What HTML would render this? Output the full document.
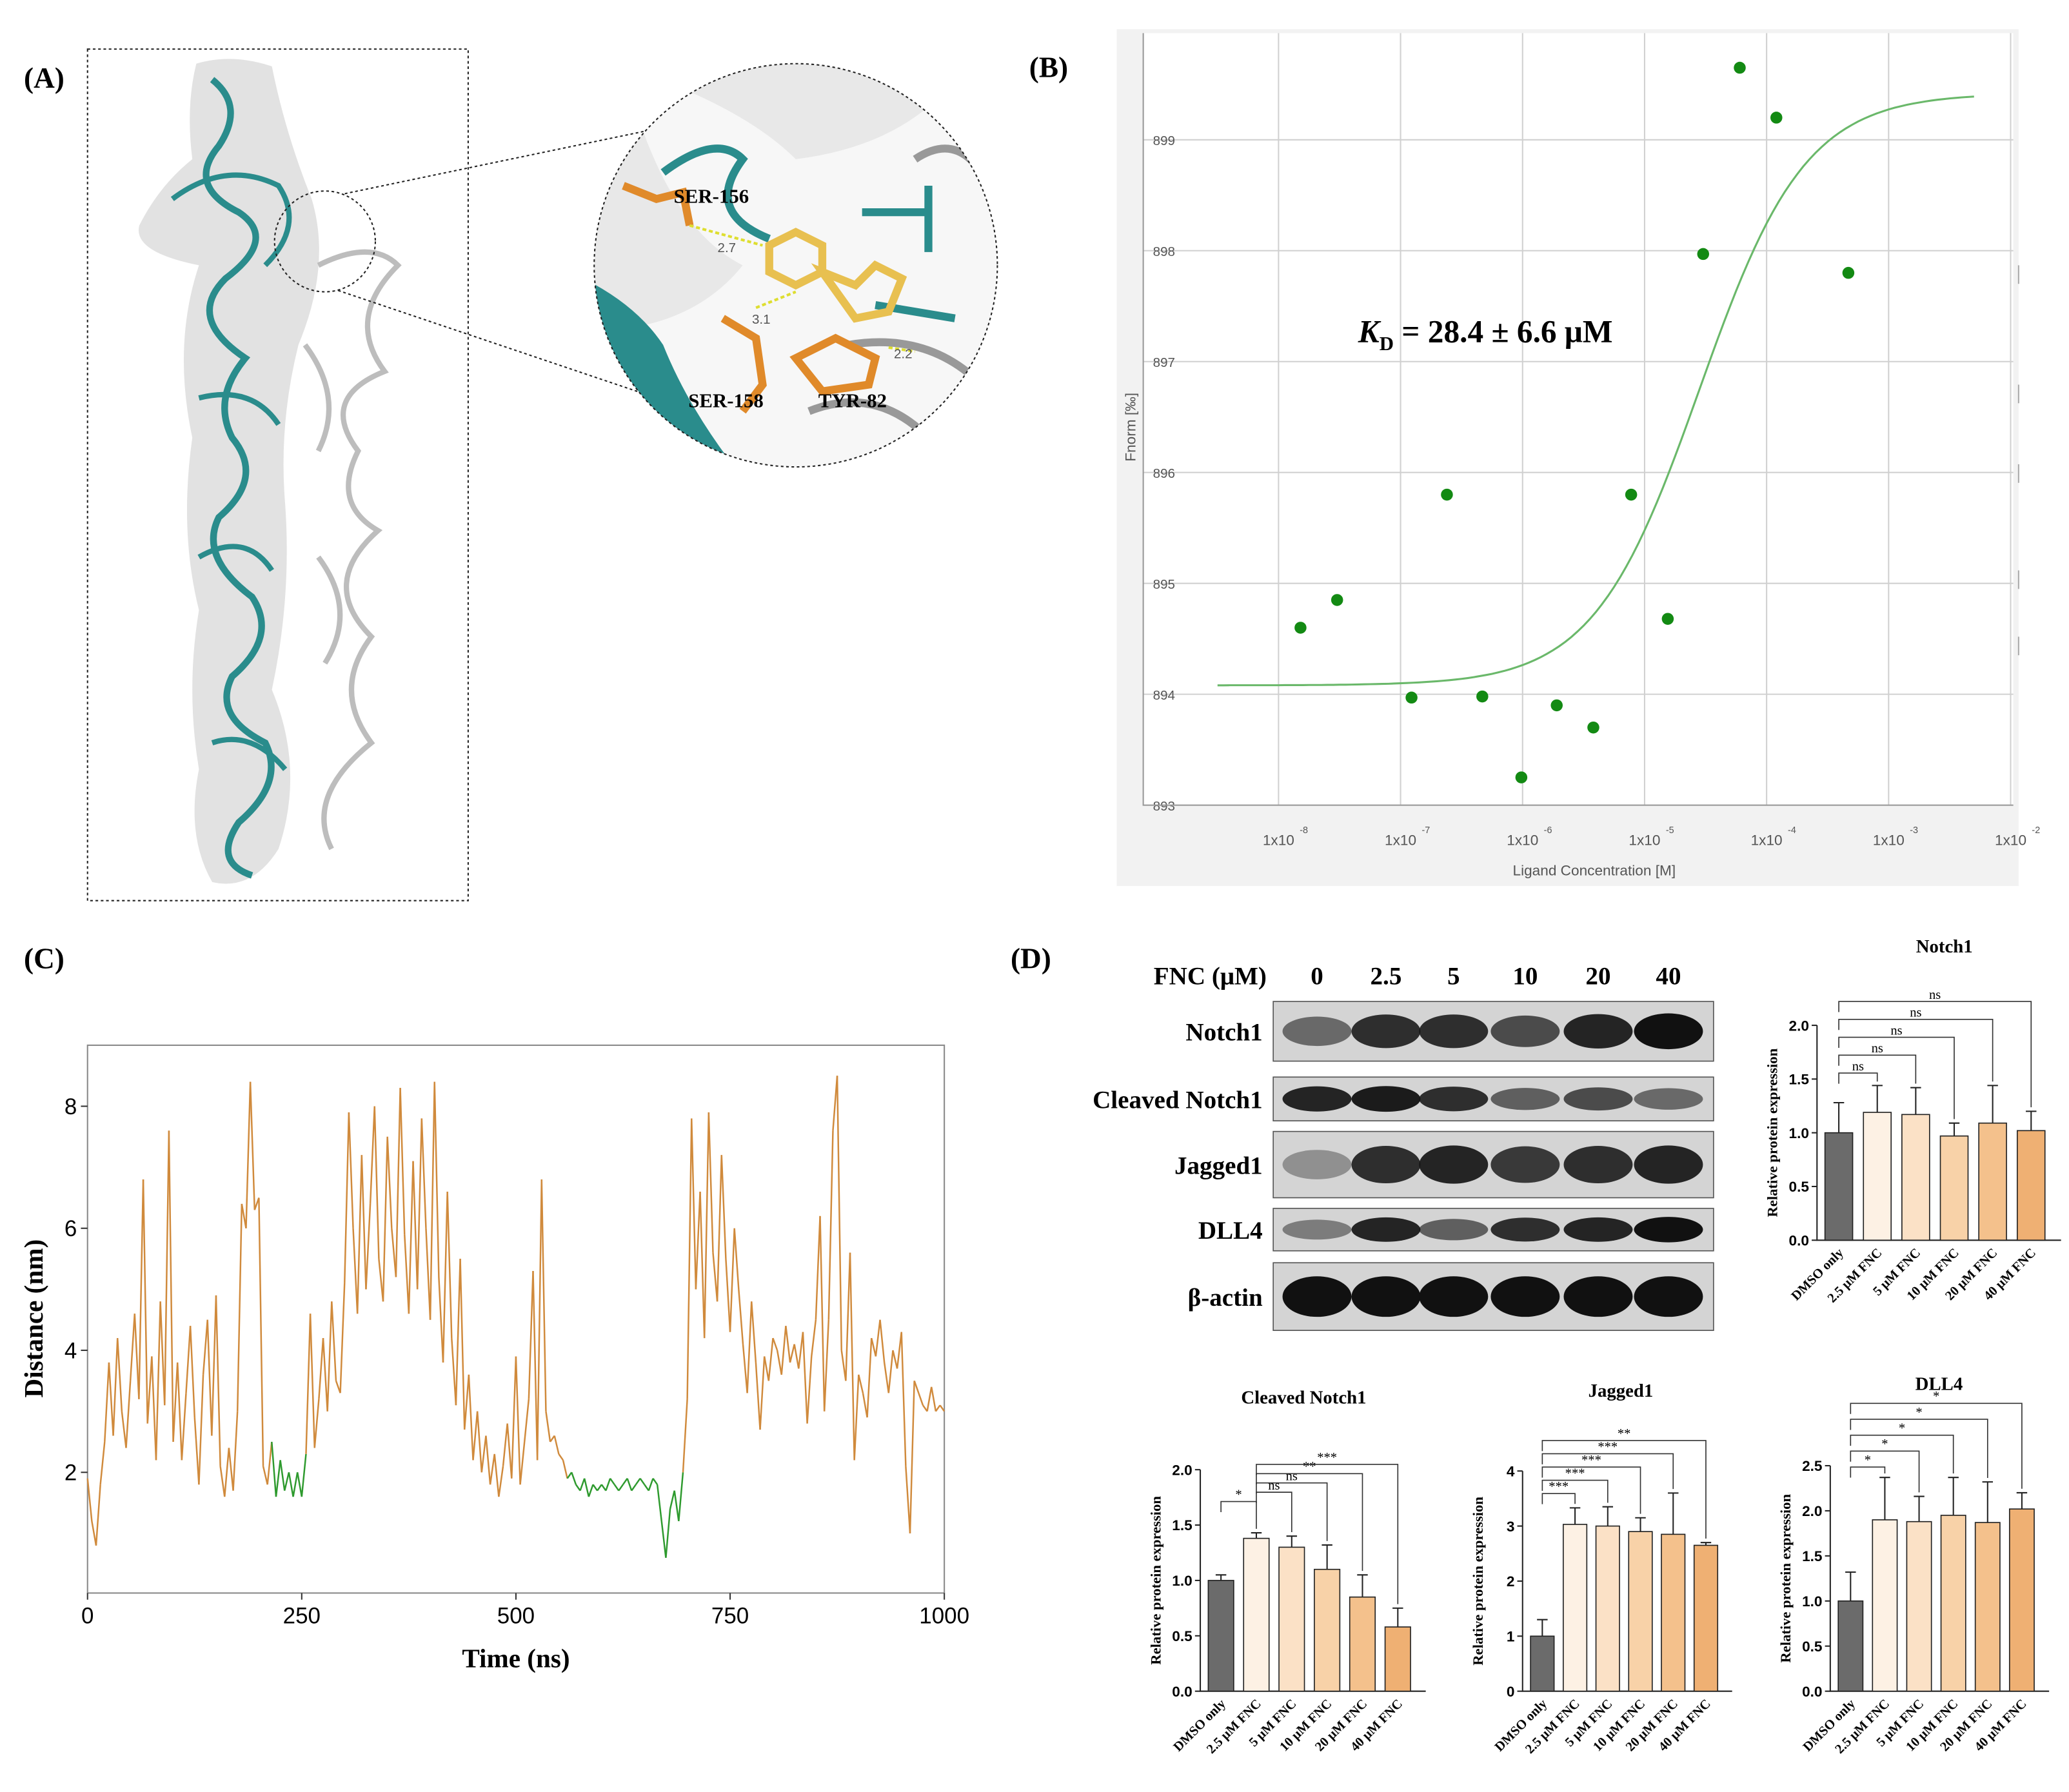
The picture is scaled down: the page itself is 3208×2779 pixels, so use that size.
<!DOCTYPE html>
<html><head><meta charset="utf-8"><style>
html,body{margin:0;padding:0;background:#fff}
svg{display:block}
text{font-family:"Liberation Serif",serif}
.sans{font-family:"Liberation Sans",sans-serif}
</style></head><body>
<svg id="fig" width="3208" height="2779" viewBox="0 0 1560 1351" preserveAspectRatio="none" xmlns="http://www.w3.org/2000/svg">
<defs>
<clipPath id="zc"><circle cx="600" cy="200" r="152"/></clipPath>
</defs>
<!-- Panel A -->
<g>
<text x="18" y="66" font-size="22" font-weight="bold">(A)</text>
<rect x="66" y="37" width="287" height="642" fill="none" stroke="#222" stroke-dasharray="2,2"/>
<path d="M148,48 Q175,40 205,50 Q215,100 235,150 Q250,200 225,260 Q210,320 215,380 Q220,450 205,520 Q230,580 210,640 Q190,672 160,665 Q140,630 150,580 Q140,520 150,460 Q135,400 145,330 Q130,260 150,200 Q100,190 105,170 Q120,140 145,120 Q140,80 148,48Z" fill="#e2e2e2"/>
<path d="M160,60 Q185,80 165,110 Q140,140 180,160 Q210,180 170,210 Q140,240 185,270 Q160,300 175,330 Q200,360 165,390 Q150,420 190,450 Q210,480 175,510 Q160,540 200,560 Q215,590 180,620 Q160,650 190,660" fill="none" stroke="#2a8c8c" stroke-width="5"/>
<path d="M130,150 Q170,120 210,140 Q230,170 200,200 M150,300 Q190,290 210,320 M150,420 Q185,400 205,430 M160,560 Q190,550 215,580" fill="none" stroke="#2a8c8c" stroke-width="4"/>
<path d="M240,200 Q280,180 300,200 Q260,240 290,280 Q240,300 270,340 Q250,380 285,400 Q240,440 280,480 Q250,520 280,560 Q230,600 250,640 M230,260 Q260,300 240,340 M240,420 Q270,460 245,500" fill="none" stroke="#bdbdbd" stroke-width="4"/>
<circle cx="245" cy="182" r="38" fill="none" stroke="#222" stroke-dasharray="2,2"/>
<line x1="260" y1="146" x2="505" y2="95" stroke="#222" stroke-dasharray="2,2"/>
<line x1="255" y1="219" x2="495" y2="300" stroke="#222" stroke-dasharray="2,2"/>
<g clip-path="url(#zc)">
<rect x="440" y="40" width="320" height="320" fill="#e8e8e8"/>
<path d="M470,50 Q560,80 600,120 Q680,110 720,60 L760,60 L760,360 L440,360 L440,250 Q520,250 560,200 Q500,170 470,50Z" fill="#f7f7f7"/>
<path d="M440,210 Q480,230 500,260 Q520,310 560,360 L440,360Z" fill="#2a8c8c"/>
<path d="M500,130 Q540,100 560,120 Q530,160 580,180" fill="none" stroke="#2a8c8c" stroke-width="6"/>
<path d="M690,120 Q720,100 740,130 M640,260 Q700,250 740,290 M610,310 Q660,290 700,330" fill="none" stroke="#999" stroke-width="6"/>
<path d="M650,160 L700,160 M700,140 L700,190 M660,230 L720,240" stroke="#2a8c8c" stroke-width="6"/>
<path d="M580,185 L600,175 L620,185 L620,205 L600,215 L580,205Z M620,205 L645,215 L660,200 L680,210 L670,235 L645,240Z" fill="none" stroke="#e8c050" stroke-width="6"/>
<path d="M470,140 L495,150 L515,145 L520,170 M545,240 L570,255 L575,290 L560,310 M600,270 L630,255 L660,270 L655,290 L620,295Z" fill="none" stroke="#e08a2a" stroke-width="6"/>
<path d="M520,170 L575,185 M570,232 L600,220 M670,262 L690,265" stroke="#dede30" stroke-width="2" stroke-dasharray="3,2"/>
</g>
<circle cx="600" cy="200" r="152" fill="none" stroke="#222" stroke-dasharray="2,2"/>
<text x="508" y="153" font-size="15" font-weight="bold">SER-156</text>
<text x="519" y="307" font-size="15" font-weight="bold">SER-158</text>
<text x="617" y="307" font-size="15" font-weight="bold">TYR-82</text>
<text x="541" y="190" font-size="10" fill="#555" class="sans">2.7</text>
<text x="567" y="244" font-size="10" fill="#555" class="sans">3.1</text>
<text x="674" y="270" font-size="10" fill="#555" class="sans">2.2</text>
</g>
<!-- Panel B -->
<g>
<text x="776" y="58" font-size="22" font-weight="bold">(B)</text>
<rect x="842" y="22" width="680" height="646" fill="#f2f2f2"/>
<rect x="862" y="25" width="656" height="582" fill="#fff"/>
<g id="gB"></g>
<text x="1024" y="258" font-size="24" font-weight="bold"><tspan font-style="italic">K</tspan><tspan font-size="15" dy="6">D</tspan><tspan dy="-6"> = 28.4 ± 6.6 μM</tspan></text>
<text x="1202" y="660" font-size="11" fill="#555" text-anchor="middle" class="sans">Ligand Concentration [M]</text>
<text transform="translate(856,322) rotate(-90)" font-size="11" fill="#555" text-anchor="middle" class="sans">Fnorm [‰]</text>
</g>
<!-- Panel C -->
<g>
<text x="18" y="730" font-size="22" font-weight="bold">(C)</text>
<g id="gC"></g>
<text x="389" y="1257" font-size="20" font-weight="bold" text-anchor="middle">Time (ns)</text>
<text transform="translate(32,994) rotate(-90)" font-size="20" font-weight="bold" text-anchor="middle">Distance (nm)</text>
</g>
<!-- Panel D -->
<g>
<text x="762" y="730" font-size="22" font-weight="bold">(D)</text>
<g id="gBlot"></g>
<g id="gBars"></g>
</g>
</svg>
<script>
const NS='http://www.w3.org/2000/svg';
function mk(parent,tag,attrs,txt){const e=document.createElementNS(NS,tag);for(const k in attrs)e.setAttribute(k,attrs[k]);if(txt!==undefined)e.textContent=txt;parent.appendChild(e);return e;}

/* ---------- Panel B data ---------- */
const mstLogConc=[-7.82,-7.52,-6.91,-6.62,-6.33,-6.01,-5.72,-5.42,-5.11,-4.81,-4.52,-4.22,-3.92,-3.33];
const mstFnorm=[894.6,894.85,893.97,895.8,893.98,893.25,893.9,893.7,895.8,894.68,897.97,899.65,899.2,897.8];
const mstXTicks=[-8,-7,-6,-5,-4,-3,-2];
const mstYTicks=[893,894,895,896,897,898,899];
const mstFit=[894.08,899.42,-4.55];
const bx=v=>964+(v+8)*92, by=v=>607-(v-893)*83.6;
const gB=document.getElementById('gB');
mstXTicks.forEach(t=>{
 const l=mk(gB,'line',{x1:bx(t),x2:bx(t),y1:25,y2:607,stroke:'#d0d0d0','stroke-width':1});
 
 
 const tx=mk(gB,'text',{x:bx(t),y:637,'font-size':11,fill:'#555','text-anchor':'middle',class:'sans'},'1x10');
 
 
 const ex=mk(gB,'text',{x:bx(t)+16,y:628,'font-size':7,fill:'#555',class:'sans'},String(t));
 
 
});
mstYTicks.forEach(t=>{
 const l=mk(gB,'line',{x1:862,x2:1518,y1:by(t),y2:by(t),stroke:'#d0d0d0','stroke-width':1});
 
 
 const tx=mk(gB,'text',{x:886,y:by(t)+4,'font-size':10,fill:'#555','text-anchor':'end',class:'sans'},String(t));
 
 
});
const axB=mk(gB,'path',{d:'M862,25V607H1518',fill:'none',stroke:'#999'});


let dfit='';
for(let x=-8.5;x<=-2.3;x+=0.05){const y=mstFit[0]+(mstFit[1]-mstFit[0])/(1+Math.pow(10,(mstFit[2]-x)*1.0));dfit+=(dfit?'L':'M')+bx(x).toFixed(1)+','+by(y).toFixed(1);}
const fit=mk(gB,'path',{d:dfit,fill:'none',stroke:'#6ab86a','stroke-width':1.5});


mstLogConc.forEach((c,i)=>{
 const p=mk(gB,'circle',{cx:bx(c),cy:by(mstFnorm[i]),r:4.5,fill:'#138a13'});
 
 
});
[200,290,350,430,480].forEach(y=>{const m=mk(gB,'line',{x1:1522,x2:1522,y1:y,y2:y+14,stroke:'#aaa'});});

/* ---------- Panel C data ---------- */
const timeStep=5;
const distance=[1.9,1.2,0.8,1.8,2.5,3.8,2.6,4.2,3.0,2.4,3.5,4.6,3.2,6.8,2.8,3.9,2.2,4.8,3.1,7.6,
2.5,3.8,2.2,3.3,4.4,2.9,1.8,3.6,4.5,2.6,4.9,2.1,1.6,2.4,1.7,3.0,6.4,6.0,8.4,6.3,
6.5,2.1,1.8,2.5,1.6,2.2,1.7,2.0,1.6,2.0,1.6,2.3,4.6,2.4,3.2,4.2,3.0,4.8,3.5,3.3,
5.1,7.9,6.0,4.6,7.2,5.0,6.4,8.0,5.5,4.8,7.5,6.0,5.2,8.3,5.9,4.6,7.1,5.0,7.8,6.0,
4.5,8.4,5.2,3.8,6.6,4.2,3.1,5.5,2.7,3.6,2.2,3.0,2.0,2.6,1.8,2.3,1.6,2.1,2.8,1.9,
3.9,1.8,2.5,3.2,5.3,2.2,6.8,3.0,2.5,2.6,2.3,2.2,1.9,2.0,1.8,1.7,1.9,1.6,1.8,1.7,
1.8,1.7,1.9,1.8,1.7,1.8,1.9,1.7,1.8,1.9,1.8,1.7,1.9,1.8,1.2,0.6,1.4,1.7,1.2,2.0,
3.2,7.8,5.0,6.6,4.2,7.9,5.6,4.8,7.2,5.5,4.3,6.0,5.0,4.1,3.3,4.8,3.8,2.7,3.9,3.5,
4.2,4.0,3.6,4.4,3.8,4.1,3.7,4.3,2.8,3.9,4.5,6.2,3.0,4.5,7.6,8.5,4.0,3.5,5.6,2.2,
3.6,3.3,2.9,4.2,3.9,4.5,3.8,3.3,4.0,3.7,4.3,2.1,1.0,3.5,3.3,3.1,3.0,3.4,3.0,3.1,3.0];
const greenRanges=[[215,255],[560,695]];
const cXTicks=[0,250,500,750,1000];
const cYTicks=[2,4,6,8];
const cx=t=>66+t*0.646, cy=v=>1202-v*46;
const gC=document.getElementById('gC');
const fr=mk(gC,'rect',{x:66,y:788,width:646,height:413,fill:'none',stroke:'#888'});


cXTicks.forEach(t=>{
 const l=mk(gC,'line',{x1:cx(t),x2:cx(t),y1:1201,y2:1206,stroke:'#333'});
 
 
 const tx=mk(gC,'text',{x:cx(t),y:1224,'font-size':17,'text-anchor':'middle',class:'sans'},String(t));
 
 
});
cYTicks.forEach(t=>{
 const l=mk(gC,'line',{x1:61,x2:66,y1:cy(t),y2:cy(t),stroke:'#333'});
 
 
 const tx=mk(gC,'text',{x:58,y:cy(t)+6,'font-size':17,'text-anchor':'end',class:'sans'},String(t));
 
 
});
const isGreen=t=>greenRanges.some(r=>t>=r[0]&&t<=r[1]);
for(let i=1;i<distance.length;i++){
 const t0=(i-1)*timeStep,t1=i*timeStep;
 const seg=mk(gC,'line',{x1:cx(t0),y1:cy(distance[i-1]),x2:cx(t1),y2:cy(distance[i]),stroke:(isGreen(t0)&&isGreen(t1))?'#2e9a2e':'#d08a3c','stroke-width':1.2});
 
 
}

/* ---------- Panel D blot ---------- */
const lanes=['0','2.5','5','10','20','40'];
const laneX=[993,1045,1096,1150,1205,1258];
const blotRows=['Notch1','Cleaved Notch1','Jagged1','DLL4','β-actin'];
const blotY=[[755,800],[812,845],[853,903],[911,943],[952,1003]];
const bandIntensity=[[0.55,0.85,0.85,0.7,0.9,1.0],[0.9,0.95,0.85,0.6,0.7,0.55],[0.35,0.85,0.9,0.8,0.85,0.9],[0.45,0.9,0.6,0.85,0.9,1.0],[1,1,1,1,1,1]];
const gBl=document.getElementById('gBlot');
const fh=mk(gBl,'text',{x:955,y:742,'font-size':19,'font-weight':'bold','text-anchor':'end'},'FNC (μM)');


lanes.forEach((l,i)=>{const t=mk(gBl,'text',{x:laneX[i],y:742,'font-size':19,'font-weight':'bold','text-anchor':'middle'},l);});
blotRows.forEach((r,j)=>{
 const [y0,y1]=blotY[j];
 const bg=mk(gBl,'rect',{x:960,y:y0,width:332,height:y1-y0,fill:'#d4d4d4',stroke:'#555','stroke-width':0.8});
 
 
 const lb=mk(gBl,'text',{x:952,y:(y0+y1)/2+7,'font-size':19,'font-weight':'bold','text-anchor':'end'},r);
 
 
 laneX.forEach((x,i)=>{
  const v=bandIntensity[j][i];
  const b=mk(gBl,'ellipse',{cx:x,cy:(y0+y1)/2,rx:26,ry:(y1-y0)*0.18+v*(y1-y0)*0.12,fill:'#111','fill-opacity':v});
  
  
 });
});

/* ---------- Panel D bar charts ---------- */
const barCats=['DMSO only','2.5 μM FNC','5 μM FNC','10 μM FNC','20 μM FNC','40 μM FNC'];
const barColors=['#6b6b6b','#fdf1e4','#fbe1c6','#f8d2a8','#f4c18c','#efb073'];
const notch1Vals=[1.0,1.19,1.17,0.97,1.09,1.02];
const notch1Err=[0.28,0.25,0.25,0.12,0.35,0.18];
const cleavedVals=[1.0,1.38,1.3,1.1,0.85,0.58];
const cleavedErr=[0.05,0.05,0.1,0.22,0.2,0.17];
const jaggedVals=[1.0,3.03,3.0,2.9,2.85,2.65];
const jaggedErr=[0.3,0.3,0.35,0.25,0.75,0.05];
const dll4Vals=[1.0,1.9,1.88,1.95,1.87,2.02];
const dll4Err=[0.32,0.47,0.28,0.42,0.45,0.18];
const notch1Ticks=[0,0.5,1.0,1.5,2.0];
const cleavedTicks=[0,0.5,1.0,1.5,2.0];
const jaggedTicks=[0,1,2,3,4];
const dll4Ticks=[0,0.5,1.0,1.5,2.0,2.5];
const notch1Sig=['ns','ns','ns','ns','ns'];
const cleavedSig=['*','ns','ns','**','***'];
const jaggedSig=['***','***','***','***','**'];
const dll4Sig=['*','*','*','*','*'];
const charts=[
 {name:'notch1',title:'Notch1',vals:notch1Vals,err:notch1Err,ticks:notch1Ticks,sig:notch1Sig,x0:1370,w:184,y0:935,ymax:2.0,ytop:773,brTop:755,brStep:13.5,ref:0,tx:1466,ty:718},
 {name:'cleaved-notch1',title:'Cleaved Notch1',vals:cleavedVals,err:cleavedErr,ticks:cleavedTicks,sig:cleavedSig,x0:905,w:170,y0:1275,ymax:2.0,ytop:1108,brTop:1104,brStep:-7,ref:-1,tx:983,ty:1058},
 {name:'jagged1',title:'Jagged1',vals:jaggedVals,err:jaggedErr,ticks:jaggedTicks,sig:jaggedSig,x0:1148,w:158,y0:1275,ymax:4,ytop:1109,brTop:1086,brStep:-10,ref:0,tx:1222,ty:1053},
 {name:'dll4',title:'DLL4',vals:dll4Vals,err:dll4Err,ticks:dll4Ticks,sig:dll4Sig,x0:1380,w:165,y0:1275,ymax:2.5,ytop:1105,brTop:1058,brStep:-12,ref:0,tx:1462,ty:1048}
];
const gBars=document.getElementById('gBars');
charts.forEach(c=>{
 const g=mk(gBars,'g',{});
 
 
 const sy=v=>c.y0-(v/c.ymax)*(c.y0-c.ytop);
 const step=(c.w-10)/6, bw=step*0.72;
 const bxc=i=>c.x0+6+step*i+bw/2;
 const tt=mk(g,'text',{x:c.tx,y:c.ty,'font-size':14,'font-weight':'bold','text-anchor':'middle'},c.title);
 
 
 const ax=mk(g,'path',{d:`M${c.x0},${c.ytop}V${c.y0}H${c.x0+c.w}`,fill:'none',stroke:'#222','stroke-width':1});
 
 
 c.ticks.forEach(t=>{
  const l=mk(g,'line',{x1:c.x0-4,x2:c.x0,y1:sy(t),y2:sy(t),stroke:'#222'});
  
  
  const tx=mk(g,'text',{x:c.x0-6,y:sy(t)+4,'font-size':11,'font-weight':'bold','text-anchor':'end',class:'sans'},Number.isInteger(t)&&c.ymax===4?String(t):t.toFixed(1));
  
  
 });
 const yt=mk(g,'text',{transform:`translate(${c.x0-30},${(c.y0+c.ytop)/2}) rotate(-90)`,'font-size':11,'font-weight':'bold','text-anchor':'middle'},'Relative protein expression');
 
 
 c.vals.forEach((v,i)=>{
  const x=bxc(i);
  const b=mk(g,'rect',{x:x-bw/2,y:sy(v),width:bw,height:c.y0-sy(v),fill:barColors[i],stroke:'#222','stroke-width':0.8});
  
  
  const e=mk(g,'path',{d:`M${x},${sy(v)}V${sy(v+c.err[i])}M${x-4},${sy(v+c.err[i])}H${x+4}`,stroke:'#222','stroke-width':1,fill:'none'});
  
  
  const lb=mk(g,'text',{transform:`translate(${x+4},${c.y0+10}) rotate(-45)`,'font-size':10,'font-weight':'bold','text-anchor':'end'},barCats[i]);
  
  
 });
 c.sig.forEach((s,k)=>{
  const j=k+1;
  let ref=c.ref===-1?(k===0?0:1):0;
  const y=c.brStep>0? c.brTop+c.brStep*(4-k) : c.brTop - c.brStep*(k);
  const yy=c.brStep>0? c.brTop+c.brStep*k : c.brTop+c.brStep*(4-k)*-1;
  const by2=c.brStep>0? c.brTop+(4-k)*c.brStep : c.brTop+ (4-k)*(-c.brStep)*-1+0;
  const ly=c.brStep>0? (c.brTop+(4-k)*c.brStep) : (c.brTop-(4-k)*(-c.brStep)*-1);
  const yl=c.brStep>0? c.brTop+(4-k)*c.brStep : c.brTop+(4-k)*(-c.brStep)*0+ (4-k)*(-c.brStep) * 1;
  const yline=c.brStep>0? c.brTop+(4-k)*c.brStep : c.brTop+(4-k)*(-c.brStep);
  const x1=bxc(ref),x2=bxc(j);
  const br=mk(g,'path',{d:`M${x1},${yline+8}V${yline}H${x2}V${sy(c.vals[j]+c.err[j])-3}`,fill:'none',stroke:'#333','stroke-width':0.8});
  
  
  const st=mk(g,'text',{x:(x1+x2)/2,y:yline-2,'font-size':10,'text-anchor':'middle'},s);
  
  
 });
});
</script>
</body></html>
